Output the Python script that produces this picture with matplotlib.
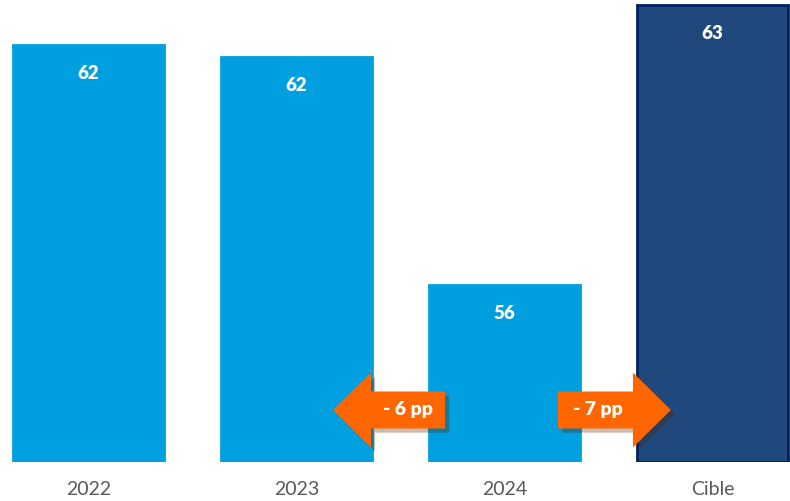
import matplotlib.pyplot as plt
from matplotlib.patches import FancyArrow
import matplotlib.patheffects as pe

# Data
categories = ['2022', '2023', '2024', 'Cible']
values = [62.0, 61.7, 56.0, 63.0]
labels = ['62', '62', '56', '63']
gaps = ['- 6 pp', '- 7 pp']

base = 51.575
light = '#009FDF'
navy = '#1F497D'
orange = '#FF6600'
colors = [light, light, light, navy]
edges = [light, light, light, '#002060']

plt.rcParams['font.family'] = ['Lato', 'DejaVu Sans']

fig = plt.figure(figsize=(7.9, 5.01), dpi=100)
ax = fig.add_axes([0, 39 / 501, 1, 462 / 501])

x = list(range(len(categories)))
heights = [v - base for v in values]
ax.bar(x, heights, bottom=base, width=0.726, color=colors, edgecolor=edges, linewidth=2)

for xi, v, lab in zip(x, values, labels):
    ax.text(xi, v - 0.72, lab, ha='center', va='center', color='white',
            fontsize=13.5, fontweight='heavy')

ax.set_xlim(-0.4255, 3.3726)
ax.set_ylim(base, base + 462 * 0.025)

ax.set_xticks(x)
ax.set_xticklabels(categories, fontsize=14, color='#595959')
ax.tick_params(axis='x', length=0, pad=14)
ax.set_yticks([])
for s in ax.spines.values():
    s.set_visible(False)

# gap arrows
shadow = [pe.SimplePatchShadow(offset=(3, -3), alpha=0.3), pe.Normal()]
yc = 52.875
a1 = FancyArrow(1.714, yc, 1.1755 - 1.714, 0, width=0.925, head_width=1.875,
                head_length=0.1825, length_includes_head=True, color=orange, lw=0,
                path_effects=shadow, zorder=5)
a2 = FancyArrow(2.257, yc, 2.8 - 2.257, 0, width=0.925, head_width=1.875,
                head_length=0.1825, length_includes_head=True, color=orange, lw=0,
                path_effects=shadow, zorder=5)
ax.add_patch(a1)
ax.add_patch(a2)
ax.text(1.535, yc, gaps[0], ha='center', va='center', color='white',
        fontsize=14, fontweight='heavy', zorder=6)
ax.text(2.45, yc, gaps[1], ha='center', va='center', color='white',
        fontsize=14, fontweight='heavy', zorder=6)

fig.savefig('out.png', dpi=100)
